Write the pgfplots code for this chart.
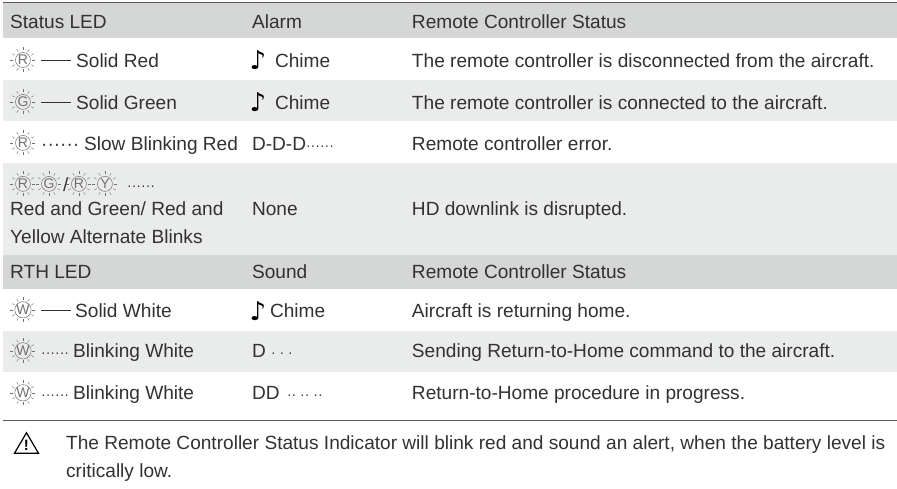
\documentclass[border=0pt]{standalone}
\usepackage{pgfplots}
\pgfplotsset{compat=1.18}
\usepackage{fontspec}
\setmainfont{Liberation Sans}
\newfontfamily\djv{DejaVu Sans}
\definecolor{hdr}{HTML}{D5D6D6}
\definecolor{alt}{HTML}{EAECEB}
\definecolor{ink}{HTML}{333232}
\definecolor{ledc}{HTML}{707070}
\newcommand\fs{\fontsize{19.1bp}{21bp}\selectfont}
\newcommand\txt[3]{\node[anchor=base west,inner sep=0,yshift=-1bp,text=ink,font=\fs] at (axis cs:#1,#2) {#3};}
\newcommand\sdots[3]{\node[anchor=base west,inner sep=0,yshift=-1bp,text=ink,font=\fontsize{14bp}{16bp}\selectfont] at (axis cs:#1,#2) {#3};}
\newcommand\band[5]{\addplot[fill=#5,draw=none,forget plot] coordinates {(#1,#3)(#2,#3)(#2,#4)(#1,#4)} -- cycle;}
\newcommand\rul[2]{\addplot[draw=#2,line width=1bp,forget plot] coordinates {(3,#1)(897,#1)};}
\newcommand\musicnote[2]{\node[anchor=center,inner sep=0,text=black,font={\djv\fontsize{26bp}{26bp}\selectfont\bfseries}] at (axis cs:#1,#2) {♪};}
\newcommand\led[3]{%
\node[circle,draw=ledc,line width=.5bp,minimum size=15bp,inner sep=0,text=ledc,font=\fontsize{14bp}{14bp}\selectfont] at (axis cs:#1,#2) {#3};
\pgfplotsinvokeforeach{0,30,...,330}{\draw[ledc,line width=.4bp] ([shift={(##1:9.5bp)}]axis cs:#1,#2) -- ([shift={(##1:12.5bp)}]axis cs:#1,#2);}}
\begin{document}
\begin{tikzpicture}
\begin{axis}[width=897bp,height=489bp,scale only axis,xmin=0,xmax=897,ymin=0,ymax=489,y dir=reverse,hide axis,clip=false]
\band{0}{897}{0}{489}{white}
\band{3}{897}{3}{38}{hdr}
\band{3}{897}{80}{121}{alt}
\band{3}{897}{163}{255}{alt}
\band{3}{897}{255}{289}{hdr}
\band{3}{897}{331}{372}{alt}
\rul{2.5}{ink!80}
\rul{421}{ink!80}
% lines
\addplot[draw=ink,line width=.6bp,forget plot] coordinates {(41,60)(71,60)};
\addplot[draw=ink,line width=.6bp,forget plot] coordinates {(41,102)(71,102)};
\addplot[draw=ink,line width=.6bp,forget plot] coordinates {(41,310)(71,310)};
% col1
\txt{10}{28}{Status LED}
\txt{10}{278}{RTH LED}
\led{23}{60}{R}\txt{76}{66.5}{Solid Red}
\led{23}{102}{G}\txt{76}{108.5}{Solid Green}
\led{23}{143}{R}\txt{41}{150}{······}\txt{84}{150}{Slow Blinking Red}
\led{23}{184}{R}\led{49}{184}{G}\txt{63}{191}{/}\led{79}{184}{R}\led{105}{184}{Y}\sdots{127}{190}{······}
\txt{10}{215}{Red and Green/ Red and}
\txt{10}{243}{Yellow Alternate Blinks}
\led{23}{310}{W}\txt{75}{317}{Solid White}
\led{23}{351}{W}\sdots{41}{357}{······}\txt{73}{357}{Blinking White}
\led{23}{393}{W}\sdots{41}{399}{······}\txt{73}{399}{Blinking White}
% col2
\txt{252}{28}{Alarm}
\musicnote{258}{60}\txt{275}{66.5}{Chime}
\musicnote{258}{102}\txt{275}{108.5}{Chime}
\txt{252}{150}{D-D-D}\sdots{306}{150}{······}
\txt{252}{215}{None}
\txt{252}{278}{Sound}
\musicnote{258}{311}\txt{270}{317}{Chime}
\txt{252}{357}{D}\sdots{271}{357}{· · ·}
\txt{252}{399}{DD}\sdots{287}{399}{·· ·· ··}
% col3
\txt{412}{28}{Remote Controller Status}
\txt{412}{66.5}{The remote controller is disconnected from the aircraft.}
\txt{412}{108.5}{The remote controller is connected to the aircraft.}
\txt{412}{150}{Remote controller error.}
\txt{412}{215}{HD downlink is disrupted.}
\txt{412}{278}{Remote Controller Status}
\txt{412}{317}{Aircraft is returning home.}
\txt{412}{357}{Sending Return-to-Home command to the aircraft.}
\txt{412}{399}{Return-to-Home procedure in progress.}
% note
\addplot[draw=black,line width=1.2bp,forget plot] coordinates {(26.5,433)(38.5,453.5)(14.5,453.5)} -- cycle;
\node[inner sep=0,text=black,font=\fontsize{15bp}{15bp}\selectfont\bfseries] at (axis cs:26.5,446) {!};
\txt{66}{449}{The Remote Controller Status Indicator will blink red and sound an alert, when the battery level is}
\txt{66}{477}{critically low.}
\end{axis}
\end{tikzpicture}
\end{document}
